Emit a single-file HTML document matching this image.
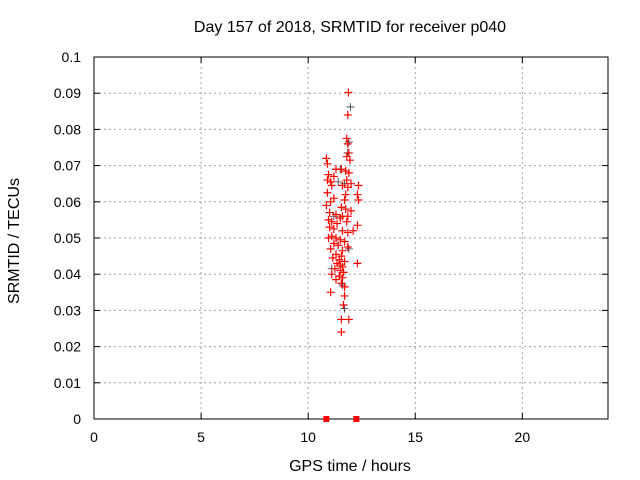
<!DOCTYPE html>
<html><head><meta charset="utf-8"><style>body{margin:0;background:#fff}svg{display:block;font-family:"Liberation Sans",sans-serif}</style></head>
<body>
<svg id="chart" width="640" height="480" viewBox="0 0 640 480">
<rect width="640" height="480" fill="#fff"/>
<text x="350" y="32" font-size="16" text-anchor="middle" fill="#000">Day 157 of 2018, SRMTID for receiver p040</text>
<text x="350" y="471" font-size="16" text-anchor="middle">GPS time / hours</text>
<text transform="translate(19,241) rotate(-90)" font-size="16" text-anchor="middle">SRMTID / TECUs</text>
<g id="grid"></g>
<g id="axes"></g>
<g id="marks"></g>
</svg>
<script>
const xTicks=[0,5,10,15,20];
const yTicks=[0,0.01,0.02,0.03,0.04,0.05,0.06,0.07,0.08,0.09,0.1];
const yTickLabels=["0","0.01","0.02","0.03","0.04","0.05","0.06","0.07","0.08","0.09","0.1"];
const blackHours=[11.97,11.9,11.85,11.7,11.4,11.9,11.1,11.6,11.7,11.2,11.5];
const blackValues=[0.0862,0.0765,0.0735,0.065,0.0655,0.047,0.0415,0.037,0.0305,0.056,0.069];
const redHours=[11.88,11.85,11.8,11.85,11.9,11.8,11.95,10.85,10.9,11.3,11.55,11.75,11.9,11.2,10.95,11.05,10.9,11.8,12.0,12.35,11.1,11.6,11.85,10.9,11.75,12.3,12.35,11.2,11.7,11.05,10.85,11.55,11.75,12.0,11.0,11.3,11.6,11.85,10.95,11.1,11.35,11.5,11.8,12.3,11.0,11.2,11.6,12.1,11.85,11.1,11.3,10.95,11.5,11.7,11.2,11.4,11.85,11.05,11.6,11.3,11.55,11.15,11.45,11.7,12.3,11.35,11.5,11.6,11.25,11.5,11.65,11.1,11.45,11.6,11.3,11.55,11.7,11.05,11.7,11.65,11.55,11.9,11.55];
const redValues=[0.0902,0.084,0.0775,0.076,0.0735,0.0725,0.0715,0.072,0.0705,0.069,0.069,0.0685,0.068,0.067,0.0675,0.0655,0.066,0.066,0.065,0.0645,0.0645,0.0645,0.064,0.0625,0.062,0.062,0.0605,0.061,0.0605,0.06,0.059,0.0585,0.058,0.0575,0.057,0.0565,0.056,0.056,0.055,0.0545,0.054,0.0555,0.0545,0.0535,0.053,0.0525,0.052,0.052,0.0515,0.0505,0.05,0.05,0.0495,0.049,0.0485,0.048,0.0475,0.047,0.0465,0.0455,0.045,0.0445,0.044,0.0435,0.043,0.043,0.0425,0.042,0.0415,0.041,0.0405,0.04,0.0395,0.039,0.0385,0.0375,0.0365,0.035,0.034,0.0315,0.0275,0.0275,0.024];
const zeroHours=[10.85,12.25];
const zeroValues=[0,0];

const L=94,R=608,T=57,B=419,XMAX=24,YMAX=0.1;
const X=h=>L+h/XMAX*(R-L);
const Y=v=>B-v/YMAX*(B-T);
const NS="http://www.w3.org/2000/svg";
function mk(tag,parent,attrs){const e=document.createElementNS(NS,tag);for(const k in attrs)e.setAttribute(k,attrs[k]);parent.appendChild(e);return e;}
const grid=document.getElementById('grid'),axes=document.getElementById('axes'),marks=document.getElementById('marks');
xTicks.forEach(t=>{
  const x=X(t);
  if(t>0){const g=mk('line',grid,{x1:x,x2:x,y1:T,y2:B,stroke:'#a0a0a0','stroke-dasharray':'2,3'});
  
  }
  const a=mk('line',axes,{x1:x,x2:x,y1:B,y2:B-6,stroke:'#000'});
  
  
  const b=mk('line',axes,{x1:x,x2:x,y1:T,y2:T+6,stroke:'#000'});
  
  
  const tx=mk('text',axes,{x:x,y:B+23,'font-size':14,'text-anchor':'middle'});tx.textContent=String(t);
  
  
});
yTicks.forEach((t,i)=>{
  const y=Y(t);
  if(t>0&&t<YMAX){const g=mk('line',grid,{x1:L,x2:R,y1:y,y2:y,stroke:'#a0a0a0','stroke-dasharray':'2,3'});
  
  }
  const a=mk('line',axes,{x1:L,x2:L+6,y1:y,y2:y,stroke:'#000'});
  
  
  const b=mk('line',axes,{x1:R,x2:R-6,y1:y,y2:y,stroke:'#000'});
  
  
  const tx=mk('text',axes,{x:L-13,y:y+5,'font-size':14,'text-anchor':'end'});tx.textContent=yTickLabels[i];
  
  
});
const frame=mk('rect',axes,{x:L,y:T,width:R-L,height:B-T,fill:'none',stroke:'#000'});


function plus(h,v,color,name,w){
  const x=X(h),y=Y(v);
  const p=mk('path',marks,{d:`M${x-4},${y}H${x+4}M${x},${y-4}V${y+4}`,stroke:color,'stroke-width':w,fill:'none'});
  
  
}
blackHours.forEach((h,i)=>plus(h,blackValues[i],'#333','black-point',0.8));
redHours.forEach((h,i)=>plus(h,redValues[i],'#ff0000','red-point',1.2));
zeroHours.forEach((h,i)=>{
  const r=mk('rect',marks,{x:X(h)-3,y:Y(zeroValues[i])-3,width:6,height:6,fill:'#ff0000'});
  
  
});
</script>
</body></html>
